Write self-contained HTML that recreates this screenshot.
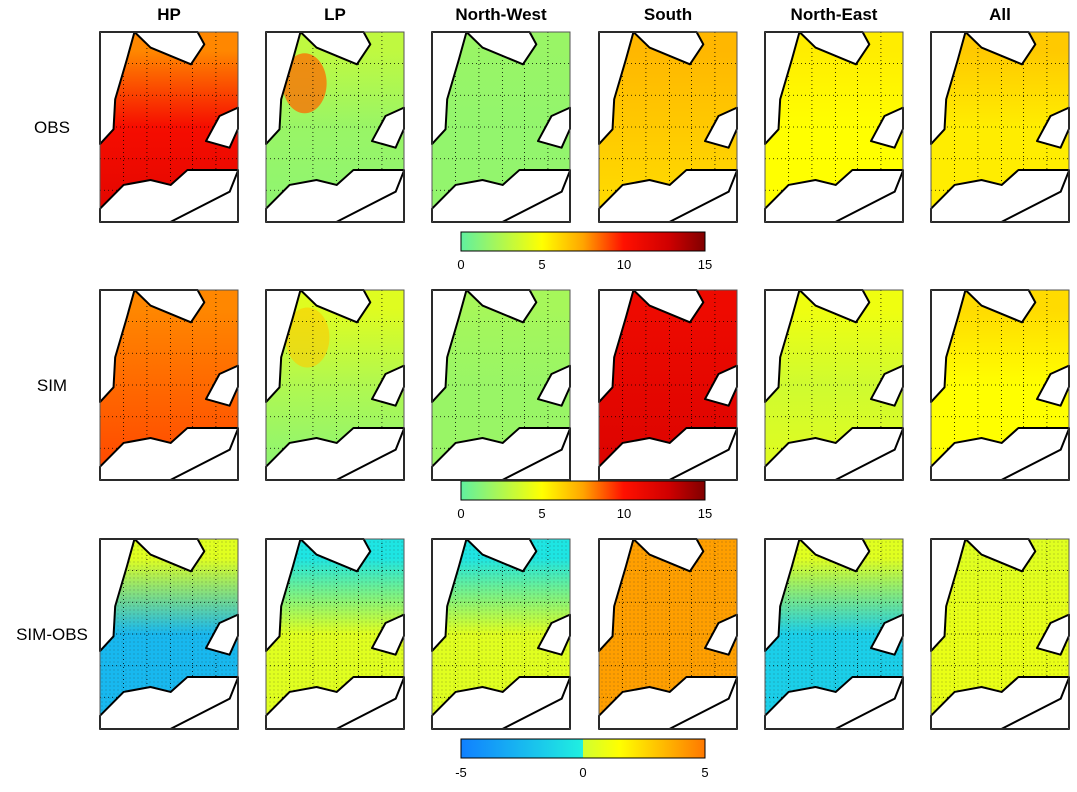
<!DOCTYPE html>
<html><head><meta charset="utf-8"><style>
body{margin:0;background:#fff;font-family:"Liberation Sans",sans-serif}
</style></head><body>
<svg id="fig" width="1077" height="787" xmlns="http://www.w3.org/2000/svg">
<defs>
<linearGradient id="cb1" x1="0" x2="1"><stop offset="0" stop-color="#60f0a0"/><stop offset="0.333" stop-color="#ffff00"/><stop offset="0.5" stop-color="#ffa500"/><stop offset="0.667" stop-color="#ff1000"/><stop offset="0.85" stop-color="#d00000"/><stop offset="1" stop-color="#800000"/></linearGradient>
<linearGradient id="cb3" x1="0" x2="1"><stop offset="0" stop-color="#1080ff"/><stop offset="0.499" stop-color="#20f0e0"/><stop offset="0.5" stop-color="#d0ff30"/><stop offset="0.65" stop-color="#ffff00"/><stop offset="1" stop-color="#ff7800"/></linearGradient>
<pattern id="stip" width="4" height="4" patternUnits="userSpaceOnUse"><circle cx="2" cy="2" r="0.55" fill="#222"/></pattern>
</defs>
<g id="panels"></g>
<g>
<rect x="461" y="232" width="244" height="19" fill="url(#cb1)" stroke="#000"/>
<text x="461" y="269" font-size="13" text-anchor="middle">0</text><text x="542" y="269" font-size="13" text-anchor="middle">5</text><text x="624" y="269" font-size="13" text-anchor="middle">10</text><text x="705" y="269" font-size="13" text-anchor="middle">15</text>
</g>
<g>
<rect x="461" y="481" width="244" height="19" fill="url(#cb1)" stroke="#000"/>
<text x="461" y="518" font-size="13" text-anchor="middle">0</text><text x="542" y="518" font-size="13" text-anchor="middle">5</text><text x="624" y="518" font-size="13" text-anchor="middle">10</text><text x="705" y="518" font-size="13" text-anchor="middle">15</text>
</g>
<g>
<rect x="461" y="739" width="244" height="19" fill="url(#cb3)" stroke="#000"/>
<text x="461" y="777" font-size="13" text-anchor="middle">-5</text><text x="583" y="777" font-size="13" text-anchor="middle">0</text><text x="705" y="777" font-size="13" text-anchor="middle">5</text>
</g>
</svg>
<script>
const columns = ["HP","LP","North-West","South","North-East","All"];
const rows = ["OBS","SIM","SIM-OBS"];
// [top, middle, bottom] field values per panel
const obsValues = [[8,10.5,11.5],[3,1.8,1.5],[1.8,1.6,1.6],[7,6.5,6],[5.5,5,5],[6.5,5.5,5.5]];
const simValues = [[8,8.5,9],[4,2.5,1.5],[2.2,1.8,1.8],[11,11.5,12],[4.5,3.5,4],[6,5,5]];
const diffValues = [[0.5,-2.5,-2.5],[-0.5,0.5,0.5],[-0.5,0.5,0.5],[4,4,4],[0.5,-1.5,-1.5],[0.5,0.8,0.8]];

const NS="http://www.w3.org/2000/svg";
function lerp(a,b,t){return a.map((v,i)=>Math.round(v+(b[i]-v)*t));}
function cmap(stops,v){
  if(v<=stops[0][0])return stops[0][1];
  for(let i=1;i<stops.length;i++){if(v<=stops[i][0]){const t=(v-stops[i-1][0])/(stops[i][0]-stops[i-1][0]);return lerp(stops[i-1][1],stops[i][1],t);}}
  return stops[stops.length-1][1];
}
const seqStops=[[0,[96,240,160]],[5,[255,255,0]],[7.5,[255,165,0]],[10,[255,16,0]],[12.75,[208,0,0]],[15,[128,0,0]]];
const divStops=[[-5,[16,128,255]],[-0.01,[32,240,224]],[0,[208,255,48]],[1.5,[255,255,0]],[5,[255,120,0]]];
function rgb(c){return `rgb(${c[0]},${c[1]},${c[2]})`;}

const colX=[100,266,432,599,765,931], rowY=[32,290,539], W=138, H=190;
const lands=[
 [[0,0],[0.25,0],[0.195,0.144],[0.11,0.354],[0.098,0.512],[0,0.59]],
 [[0.25,0],[0.366,0.082],[0.659,0.17],[0.756,0.065],[0.707,0]],
 [[1,0.398],[0.866,0.442],[0.768,0.574],[0.939,0.609],[1,0.51]],
 [[-0.01,0.93],[0.171,0.805],[0.366,0.779],[0.512,0.805],[0.634,0.726],[1,0.726],[1,1],[0,1]]
];
const g=document.getElementById('panels');
function el(tag,attrs,parent){const e=document.createElementNS(NS,tag);for(const k in attrs)e.setAttribute(k,attrs[k]);(parent||g).appendChild(e);return e;}

columns.forEach((c,i)=>{
  const t=el('text',{x:colX[i]+W/2,y:20,'font-size':17,'font-weight':'bold','text-anchor':'middle'});
  t.textContent=c;
  
  
});
rows.forEach((r,j)=>{
  const t=el('text',{x:52,y:rowY[j]+H/2+6,'font-size':17,'text-anchor':'middle'});
  t.textContent=r;
  
  
});
const dataRows=[obsValues,simValues,diffValues];
dataRows.forEach((vals,j)=>{
  vals.forEach((v,i)=>{
    const x0=colX[i],y0=rowY[j];
    const pg=el('g',{});
    
    
    const id='gr'+j+'_'+i;
    const lg=el('linearGradient',{id:id,x1:0,y1:0,x2:0,y2:1},document.querySelector('defs'));
    const st=j===2?divStops:seqStops;
    [[0.1,v[0]],[0.5,v[1]],[0.9,v[2]]].forEach(s=>el('stop',{offset:s[0],'stop-color':rgb(cmap(st,s[1]))},lg));
    el('rect',{x:x0,y:y0,width:W,height:H,fill:`url(#${id})`},pg);
    if(i===1&&j===0){el('ellipse',{cx:x0+W*0.28,cy:y0+H*0.27,rx:22,ry:30,fill:rgb(cmap(st,8.5)),opacity:0.75},pg);}
    if(i===1&&j===1){el('ellipse',{cx:x0+W*0.3,cy:y0+H*0.25,rx:22,ry:30,fill:rgb(cmap(st,6.5)),opacity:0.6},pg);}
    if(j===2)el('rect',{x:x0,y:y0,width:W,height:H,fill:'url(#stip)',opacity:0.5},pg);
    [0.17,0.34,0.51,0.67,0.84].forEach(f=>{
      el('line',{x1:x0+W*f,y1:y0,x2:x0+W*f,y2:y0+H,stroke:'#000','stroke-width':0.8,'stroke-dasharray':'1,3'},pg);
    });
    [0.165,0.333,0.5,0.667,0.833].forEach(f=>{
      el('line',{x1:x0,y1:y0+H*f,x2:x0+W,y2:y0+H*f,stroke:'#000','stroke-width':0.8,'stroke-dasharray':'1,3'},pg);
    });
    lands.forEach(L=>{
      el('polygon',{points:L.map(p=>(x0+Math.max(0,Math.min(1,p[0]))*W)+','+(y0+p[1]*H)).join(' '),fill:'#fff',stroke:'#000','stroke-width':2,'stroke-linejoin':'round'},pg);
    });
    el('polyline',{points:`${x0+W*0.51},${y0+H} ${x0+W*0.94},${y0+H*0.84} ${x0+W},${y0+H*0.73}`,fill:'none',stroke:'#000','stroke-width':2},pg);
    el('rect',{x:x0,y:y0,width:W,height:H,fill:'none',stroke:'#555','stroke-width':1},pg);
  });
});
</script>
</body></html>
